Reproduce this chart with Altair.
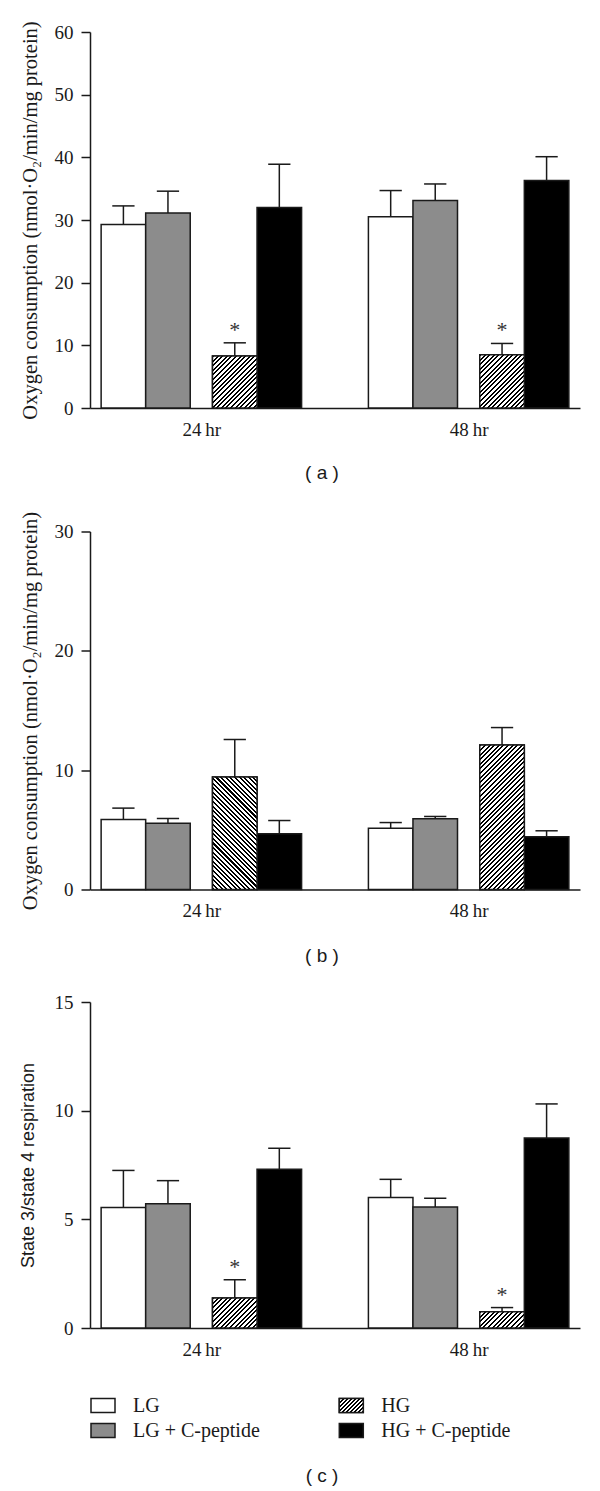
import altair as alt
import pandas as pd

# ---------------- data ----------------
groups = ["24\u2009hr", "48\u2009hr"]
series = ["LG", "LG + C-peptide", "HG", "HG + C-peptide"]
series_fill = ["#ffffff", "#8c8c8c", "#ffffff", "#000000"]

# panel (a)
a_mean_24 = [29.3, 31.1, 8.3, 32.0]
a_err_24 = [2.95, 3.5, 2.1, 6.9]
a_mean_48 = [30.5, 33.1, 8.5, 36.3]
a_err_48 = [4.2, 2.65, 1.8, 3.8]
a_sig_24 = [False, False, True, False]
a_sig_48 = [False, False, True, False]
a_ticks = [0, 10, 20, 30, 40, 50, 60]

# panel (b)
b_mean_24 = [5.87, 5.55, 9.42, 4.68]
b_err_24 = [0.95, 0.4, 3.15, 1.1]
b_mean_48 = [5.14, 5.92, 12.1, 4.41]
b_err_48 = [0.47, 0.2, 1.47, 0.51]
b_sig_24 = [False, False, False, False]
b_sig_48 = [False, False, False, False]
b_ticks = [0, 10, 20, 30]

# panel (c)
c_mean_24 = [5.54, 5.72, 1.38, 7.30]
c_err_24 = [1.71, 1.06, 0.84, 0.97]
c_mean_48 = [6.0, 5.57, 0.75, 8.74]
c_err_48 = [0.84, 0.4, 0.19, 1.57]
c_sig_24 = [False, False, True, False]
c_sig_48 = [False, False, True, False]
c_ticks = [0, 5, 10, 15]

title_ab = "Oxygen consumption (nmol\u00b7O\u2082/min/mg protein)"
title_c = "State 3/state 4 respiration"

# ---------------- layout / style ----------------
SERIF = "Liberation Serif"
SANS = "Liberation Sans"
INK = "#1a1a1a"
PLOT_W = 490
X_DOMAIN = 11.0
GROUP_START = [0.25, 6.25]
BAR_OFFSET = [0.0, 1.0, 2.5, 3.5]
BAR_PX = PLOT_W / X_DOMAIN
TICK_FS = 19
LETTER_FS = 19


def hatch_gradient(w, h, direction="/", period=4.6, frac=0.45):
    L = w + h
    q = period / L
    stops = []
    t = 0.0
    while t < 1.0:
        a = round(t, 5)
        b = round(min(t + frac * q, 1.0), 5)
        c = round(min(t + q, 1.0), 5)
        stops += [
            alt.GradientStop(color="#000000", offset=a),
            alt.GradientStop(color="#000000", offset=b),
            alt.GradientStop(color="#ffffff", offset=b),
            alt.GradientStop(color="#ffffff", offset=c),
        ]
        t += q
    denom = w * w + h * h
    dx = L * w / denom
    dy = L * h / denom
    if direction == "/":
        x1, y1, x2, y2 = 0.0, 0.0, dx, dy
    else:
        x1, y1, x2, y2 = 0.0, 1.0, dx, 1.0 - dy
    return alt.LinearGradient(gradient="linear", stops=stops,
                              x1=x1, y1=y1, x2=x2, y2=y2)


def panel_frame(means, errs, sigs):
    rows = []
    for gi, g in enumerate(groups):
        for si, s in enumerate(series):
            x0 = GROUP_START[gi] + BAR_OFFSET[si]
            m = means[gi][si]
            e = errs[gi][si]
            rows.append({
                "group": g, "series": s, "mean": m, "err": e, "top": m + e,
                "sig": sigs[gi][si], "x0": x0, "x1": x0 + 1, "xc": x0 + 0.5,
                "c0": x0 + 0.25, "c1": x0 + 0.75,
            })
    return pd.DataFrame(rows)


def make_panel(df, ticks, height, ytitle, yfont, ysize, ytpad,
               hatch_dirs, letter, letter_offset):
    ymax = ticks[-1]
    xs = alt.Scale(domain=[0, X_DOMAIN], nice=False, zero=False)
    ys = alt.Scale(domain=[0, ymax], nice=False, zero=True)
    centers = [GROUP_START[i] + 2.25 for i in range(len(groups))]
    label_expr = f"datum.value < {(centers[0] + centers[1]) / 2} ? '{groups[0]}' : '{groups[1]}'"
    xaxis = alt.Axis(values=centers, labelExpr=label_expr, ticks=False,
                     grid=False, title=None, labelPadding=12,
                     labelFont=SERIF, labelFontSize=TICK_FS)
    yaxis = alt.Axis(values=ticks, tickSize=9, grid=False, title=ytitle,
                     titleFont=yfont, titleFontSize=ysize,
                     titleFontWeight="normal", titlePadding=ytpad,
                     labelPadding=8, labelFont=SERIF, labelFontSize=TICK_FS)

    def X(f):
        return alt.X(f, type="quantitative", scale=xs, axis=xaxis)

    def Y(f):
        return alt.Y(f, type="quantitative", scale=ys, axis=yaxis)

    base = alt.Chart(df)
    err = base.mark_rule(color=INK, strokeWidth=1.5).encode(
        x=X("xc"), y=Y("mean"), y2="top")
    cap = base.mark_rule(color=INK, strokeWidth=1.5).encode(
        x=X("c0"), x2="c1", y=Y("top"))
    bars = base.mark_rect(stroke=INK, strokeWidth=1.5).encode(
        x=X("x0"), x2="x1", y=Y("mean"), y2=alt.datum(0),
        fill=alt.Fill("series:N", scale=alt.Scale(domain=series, range=series_fill),
                      legend=None))
    ppu = height / ymax
    hatches = []
    for gi, g in enumerate(groups):
        row = df[(df["group"] == g) & (df["series"] == "HG")].iloc[0]
        grad = hatch_gradient(BAR_PX, row["mean"] * ppu, hatch_dirs[gi])
        hatches.append(
            base.transform_filter(alt.FieldEqualPredicate(field="group", equal=g))
            .transform_filter(alt.FieldEqualPredicate(field="series", equal="HG"))
            .mark_rect(fill=grad, stroke=INK, strokeWidth=1.5)
            .encode(x=X("x0"), x2="x1", y=Y("mean"), y2=alt.datum(0))
        )
    stars = base.transform_filter("datum.sig").mark_text(
        text="*", font=SERIF, fontSize=22, color="#333333",
        baseline="middle", dy=-13).encode(x=X("xc"), y=Y("top"))

    props = dict(width=PLOT_W, height=height)
    if letter:
        props["title"] = alt.TitleParams(letter, orient="bottom", font=SANS,
                                         fontSize=LETTER_FS, fontWeight="normal",
                                         color=INK, offset=letter_offset,
                                         frame="group", dx=-13, anchor="middle")
    return alt.layer(err, cap, bars, *hatches, stars).properties(**props)


df_a = panel_frame([a_mean_24, a_mean_48], [a_err_24, a_err_48], [a_sig_24, a_sig_48])
df_b = panel_frame([b_mean_24, b_mean_48], [b_err_24, b_err_48], [b_sig_24, b_sig_48])
df_c = panel_frame([c_mean_24, c_mean_48], [c_err_24, c_err_48], [c_sig_24, c_sig_48])

panel_a = make_panel(df_a, a_ticks, 376, title_ab, SERIF, 20.5, 14, ["/", "/"], "( a )", 25)
panel_b = make_panel(df_b, b_ticks, 358, title_ab, SERIF, 20.5, 14, ["\\", "/"], "( b )", 26)
panel_c = make_panel(df_c, c_ticks, 326, title_c, SANS, 18, 16.5, ["/", "/"], "", 0)

# ---------------- legend ----------------
leg_col = [0, 0, 1, 1]
leg_row = [0, 1, 0, 1]
LEG_X0 = 1.0
LEG_COLW = 248.3
LEG_TOP = 0.26
leg = pd.DataFrame({"label": series, "col": leg_col, "row": leg_row})
leg["bx"] = LEG_X0 + leg["col"] * LEG_COLW
leg["bx2"] = leg["bx"] + 24
leg["tx"] = leg["bx"] + 42
leg["yc"] = leg["row"] + 0.5
leg["y0"] = leg["yc"] - 0.28
leg["y1"] = leg["yc"] + 0.28

lxs = alt.Scale(domain=[0, PLOT_W], nice=False, zero=False)
lys = alt.Scale(domain=[-LEG_TOP, 2], nice=False, zero=False, reverse=True)
lbase = alt.Chart(leg)
lbox = lbase.mark_rect(stroke=INK, strokeWidth=1.5).encode(
    x=alt.X("bx:Q", scale=lxs, axis=None), x2="bx2",
    y=alt.Y("y0:Q", scale=lys, axis=None), y2="y1",
    fill=alt.Fill("label:N", scale=alt.Scale(domain=series, range=series_fill), legend=None))
lhatch = lbase.transform_filter(alt.FieldEqualPredicate(field="label", equal="HG")).mark_rect(
    fill=hatch_gradient(24, 14, "/", period=4.0), stroke=INK, strokeWidth=1.5).encode(
    x=alt.X("bx:Q", scale=lxs, axis=None), x2="bx2",
    y=alt.Y("y0:Q", scale=lys, axis=None), y2="y1")
ltext = lbase.mark_text(align="left", baseline="middle", font=SERIF, fontSize=20,
                        color=INK).encode(
    x=alt.X("tx:Q", scale=lxs, axis=None),
    y=alt.Y("yc:Q", scale=lys, axis=None), text="label:N")
legend_chart = alt.layer(lbox, lhatch, ltext).properties(
    width=PLOT_W, height=25 * (2 + LEG_TOP),
    title=alt.TitleParams("( c )", orient="bottom", font=SANS, fontSize=LETTER_FS,
                          fontWeight="normal", color=INK, offset=24,
                          frame="group", dx=-13, anchor="middle"))

chart = alt.vconcat(panel_a, panel_b, panel_c, legend_chart, spacing=27.5).configure_view(
    stroke=None
).configure_axis(
    domainColor=INK, domainWidth=1.5, tickColor=INK, tickWidth=1.5,
    labelColor=INK, titleColor=INK
).properties(padding={"left": 11, "top": 12, "right": 5, "bottom": 0})

chart.save("out.html", embed_options={"renderer": "svg", "actions": False})
